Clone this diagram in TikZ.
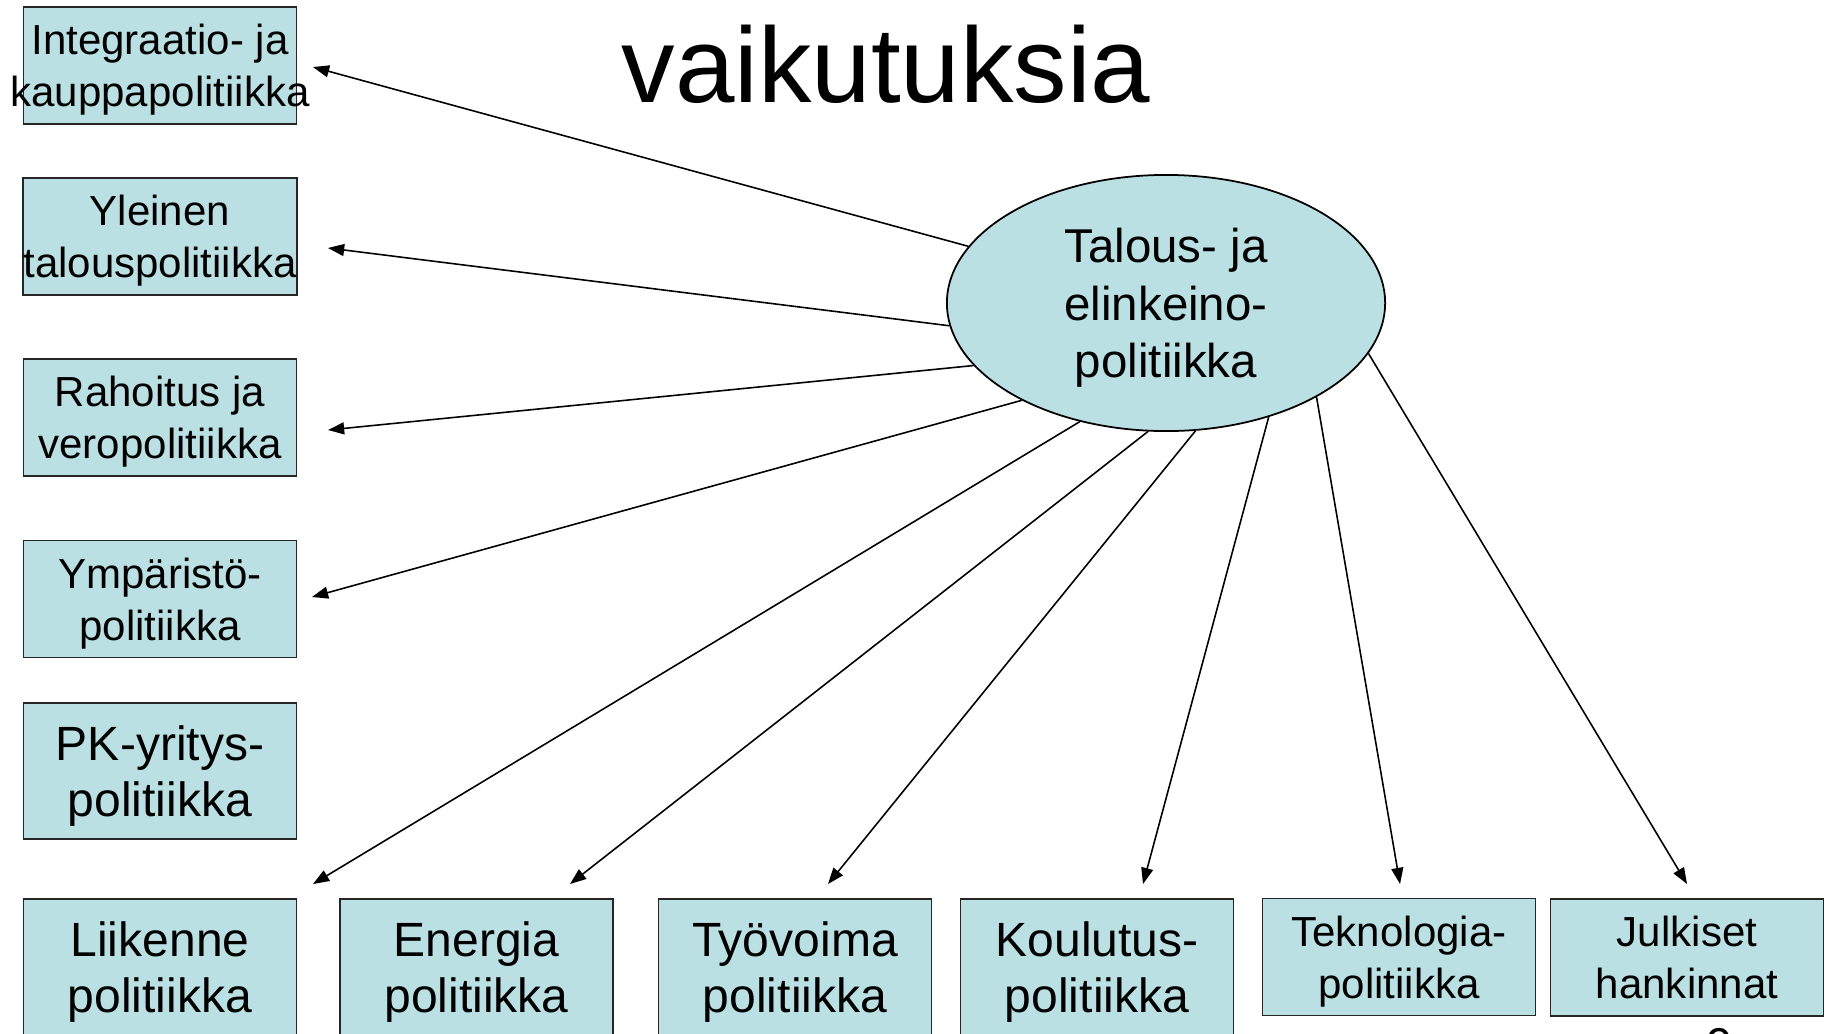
\documentclass[tikz,border=0pt]{standalone}
\usepackage{fontspec}
\setmainfont{Liberation Sans}
\usetikzlibrary{arrows.meta,shapes.geometric}
\definecolor{boxfill}{HTML}{BBE0E3}

\begin{document}
\begin{tikzpicture}[x=0.01cm,y=-0.01cm,
   box/.style={draw=black!85,line width=0.5pt,fill=boxfill,inner sep=0pt,align=center,
     minimum width=2.73cm,minimum height=1.17cm,font=\fontsize{11.95}{14.8}\selectfont,
     text depth=-0.84pt},
   bigbox/.style={box,minimum height=1.36cm,font=\fontsize{13.66}{15.93}\selectfont,text depth=-0.55pt},
   hub/.style={ellipse,draw=black,line width=0.5pt,fill=boxfill,inner sep=0pt,align=center,
     minimum width=4.38cm,minimum height=2.56cm,font=\fontsize{13.5}{16.4}\selectfont,
     text depth=-0.55pt},
   arr/.style={-{Triangle[length=4.6pt,width=3.4pt]},line width=0.45pt}]
   \useasboundingbox (0,0) rectangle (1828,1033);
   \node[anchor=base,font=\fontsize{30.4}{36}\selectfont] (title) at (886,102.6) {vaikutuksia};
   \node[hub] (tal) at (1166,303) {Talous- ja\\elinkeino-\\politiikka};
   \node[box] (int) at (160,65.5) {Integraatio- ja\\\makebox[2.5cm]{kauppapolitiikka}};
   \node[box] (yle) at (160,236.5) {Yleinen\\talouspolitiikka};
   \node[box] (rah) at (160,417.5) {Rahoitus ja\\veropolitiikka};
   \node[box] (ymp) at (160,599) {Ympäristö-\\politiikka};
   \node[bigbox] (pk) at (160,771) {PK-yritys-\\politiikka};
   \node[bigbox] (lii) at (160,967) {Liikenne\\politiikka};
   \node[bigbox] (ene) at (476.5,967) {Energia\\politiikka};
   \node[bigbox] (tyo) at (795,967) {Työvoima\\politiikka};
   \node[bigbox] (kou) at (1097,967) {Koulutus-\\politiikka};
   \node[box] (tek) at (1399,957) {Teknologia-\\politiikka};
   \node[box] (jul) at (1687,957.5) {Julkiset\\hankinnat};
   \node[anchor=base,font=\fontsize{13.5}{16}\selectfont] (num) at (1720,1061) {9};
   \coordinate (int-t) at (313,67);
   \coordinate (yle-t) at (328,248);
   \coordinate (rah-t) at (328,430);
   \coordinate (ymp-t) at (312,597);
   \coordinate (lii-t) at (313,884);
   \coordinate (ene-t) at (570,884);
   \coordinate (tyo-t) at (828,884);
   \coordinate (kou-t) at (1143,884);
   \coordinate (tek-t) at (1400,884);
   \coordinate (jul-t) at (1687,884);
   \foreach \a/\t in {164.7/int,186.1/yle,198.8/rah,214/ymp,234.8/lii,262.4/ene,283.7/tyo,312.9/kou,328.2/tek,346.5/jul} {
     \draw[arr] (tal.\a) -- (\t-t);
   }
\end{tikzpicture}
\end{document}
